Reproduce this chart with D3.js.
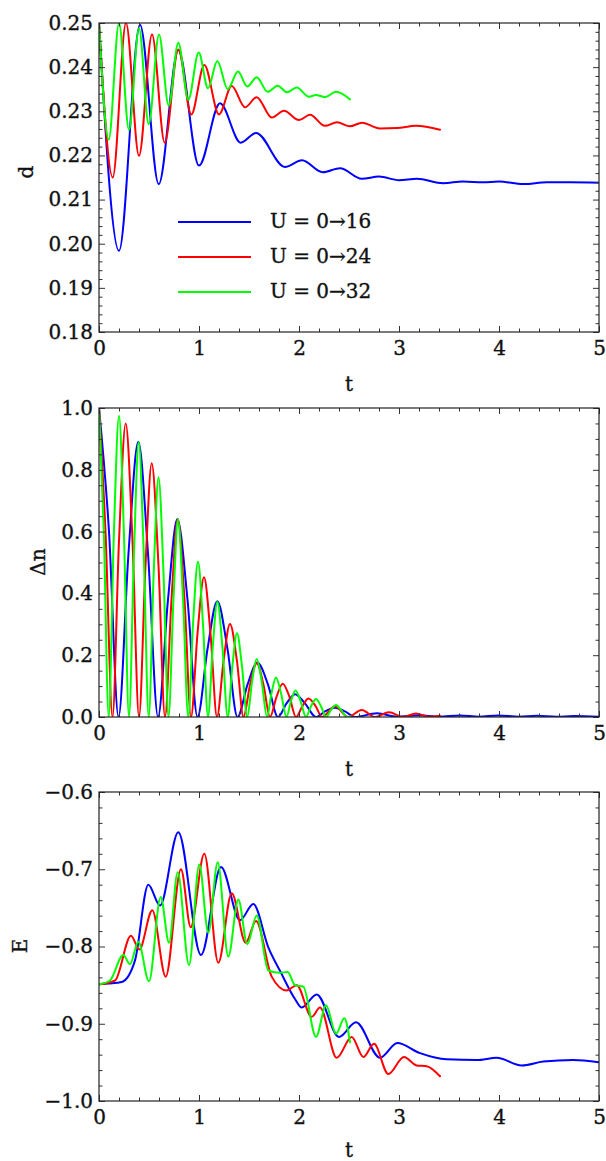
<!DOCTYPE html>
<html><head><meta charset="utf-8">
<script src="https://cdn.jsdelivr.net/npm/d3@7"></script>
<style>
html,body{margin:0;padding:0;background:#fff;}
svg{display:block;}
text{font-family:"DejaVu Serif",serif;}
</style></head><body>
<svg id="chart" width="606" height="1161"></svg>
<script>
// ---------- data ----------
const seriesNames = ["U = 0\u219216", "U = 0\u219224", "U = 0\u219232"];
const seriesColors = ["#0000ff", "#ff0000", "#00ff00"];

const xTicks = [0, 1, 2, 3, 4, 5];
const xTickLabels = ["0", "1", "2", "3", "4", "5"];
const dTicks = [0.18, 0.19, 0.20, 0.21, 0.22, 0.23, 0.24, 0.25];
const dTickLabels = ["0.18", "0.19", "0.20", "0.21", "0.22", "0.23", "0.24", "0.25"];
const nTicks = [0, 0.2, 0.4, 0.6, 0.8, 1.0];
const nTickLabels = ["0.0", "0.2", "0.4", "0.6", "0.8", "1.0"];
const eTicks = [-1.0, -0.9, -0.8, -0.7, -0.6];
const eTickLabels = ["\u22121.0", "\u22120.9", "\u22120.8", "\u22120.7", "\u22120.6"];

// double occupancy d(t)
const d16 = [[0,0.250],[0.2,0.1984],[0.41,0.2496],[0.597,0.2135],[0.793,0.2439],[1.0,0.2177],[1.21,0.2318],[1.417,0.2229],[1.57,0.2251],[1.86,0.2174],[2.03,0.2189],[2.237,0.2162],[2.41,0.2171],[2.627,0.2147],[2.80,0.2152],[3.0,0.2144],[3.18,0.2147],[3.44,0.2137],[3.64,0.2141],[3.84,0.2139],[4.0,0.2141],[4.24,0.2135],[4.48,0.2139],[4.71,0.2139],[5.0,0.2138]];
const d24 = [[0,0.250],[0.137,0.2150],[0.27,0.2500],[0.40,0.2199],[0.53,0.2474],[0.657,0.2229],[0.793,0.2440],[0.923,0.2293],[1.053,0.2405],[1.2,0.2293],[1.327,0.2357],[1.46,0.2309],[1.577,0.2332],[1.727,0.2286],[1.85,0.2301],[2.0,0.2280],[2.11,0.2292],[2.26,0.2267],[2.38,0.2275],[2.51,0.2266],[2.63,0.2274],[2.81,0.2261],[2.98,0.2262],[3.17,0.2267],[3.41,0.2258]];
const d32 = [[0,0.250],[0.097,0.2236],[0.2,0.2500],[0.3,0.2258],[0.4,0.2488],[0.497,0.2271],[0.6,0.2474],[0.697,0.2313],[0.793,0.2455],[0.893,0.2326],[0.997,0.2433],[1.09,0.2352],[1.183,0.2414],[1.287,0.2350],[1.39,0.2390],[1.483,0.2356],[1.577,0.2377],[1.687,0.2344],[1.787,0.2358],[1.88,0.2343],[1.977,0.2354],[2.1,0.2333],[2.17,0.2337],[2.26,0.2332],[2.37,0.2344],[2.51,0.2327]];

// imbalance Δn(t)
const n16 = [[0,1.0],[0.1,0.6],[0.195,0],[0.295,0.53],[0.393,0.891],[0.49,0.53],[0.59,0],[0.69,0.38],[0.783,0.640],[0.885,0.38],[0.985,0],[1.085,0.22],[1.183,0.375],[1.285,0.22],[1.385,0],[1.485,0.105],[1.583,0.176],[1.69,0.105],[1.79,0],[1.875,0.044],[1.96,0.074],[2.06,0.044],[2.17,0],[2.26,0.018],[2.36,0.030],[2.46,0.018],[2.56,0],[2.78,0.012],[2.98,0.001],[3.2,0.006],[3.4,0.001],[3.61,0.005],[3.8,0.001],[3.99,0.005],[4.2,0.001],[4.38,0.004],[4.57,0.001],[4.75,0.003],[5.0,0.001]];
const n24 = [[0,1.0],[0.065,0.6],[0.135,0],[0.2,0.57],[0.267,0.950],[0.335,0.57],[0.40,0],[0.465,0.49],[0.527,0.821],[0.595,0.49],[0.66,0],[0.725,0.38],[0.787,0.640],[0.855,0.38],[0.92,0],[0.985,0.27],[1.05,0.452],[1.115,0.27],[1.18,0],[1.245,0.18],[1.31,0.301],[1.38,0.18],[1.445,0],[1.51,0.104],[1.577,0.174],[1.645,0.104],[1.71,0],[1.775,0.065],[1.837,0.108],[1.905,0.065],[1.97,0],[2.035,0.036],[2.095,0.060],[2.165,0.036],[2.23,0],[2.36,0.035],[2.49,0],[2.627,0.023],[2.76,0],[2.9,0.015],[3.04,0],[3.17,0.011],[3.3,0.001],[3.41,0.004]];
const n32 = [[0,1.0],[0.048,0.6],[0.097,0],[0.148,0.585],[0.2,0.975],[0.25,0.585],[0.3,0],[0.35,0.534],[0.397,0.89],[0.447,0.534],[0.497,0],[0.547,0.466],[0.595,0.776],[0.645,0.466],[0.695,0],[0.745,0.384],[0.79,0.640],[0.84,0.384],[0.893,0],[0.94,0.30],[0.99,0.503],[1.04,0.30],[1.09,0],[1.137,0.224],[1.183,0.373],[1.235,0.224],[1.287,0],[1.333,0.163],[1.38,0.271],[1.43,0.163],[1.483,0],[1.53,0.113],[1.577,0.188],[1.628,0.113],[1.68,0],[1.725,0.077],[1.77,0.128],[1.82,0.077],[1.875,0],[1.92,0.052],[1.965,0.086],[2.015,0.052],[2.07,0],[2.12,0.035],[2.17,0.058],[2.22,0.035],[2.27,0],[2.32,0.023],[2.37,0.039],[2.42,0.023],[2.48,0],[2.51,0.002]];

// energy E(t)
const e16 = [[0,-0.849],[0.1,-0.848],[0.227,-0.846],[0.36,-0.818],[0.493,-0.720],[0.61,-0.747],[0.793,-0.652],[1.02,-0.811],[1.22,-0.697],[1.41,-0.766],[1.543,-0.745],[1.693,-0.801],[1.82,-0.834],[1.96,-0.868],[2.027,-0.879],[2.177,-0.862],[2.40,-0.917],[2.57,-0.898],[2.81,-0.944],[2.983,-0.925],[3.21,-0.938],[3.477,-0.946],[3.777,-0.947],[3.977,-0.944],[4.227,-0.954],[4.443,-0.949],[4.743,-0.947],[5.0,-0.950]];
const e24 = [[0,-0.849],[0.16,-0.844],[0.32,-0.786],[0.403,-0.804],[0.533,-0.753],[0.667,-0.839],[0.82,-0.700],[0.917,-0.775],[1.053,-0.680],[1.193,-0.821],[1.327,-0.731],[1.467,-0.795],[1.57,-0.767],[1.727,-0.839],[1.877,-0.857],[1.977,-0.850],[2.127,-0.891],[2.21,-0.879],[2.377,-0.944],[2.527,-0.917],[2.643,-0.943],[2.75,-0.926],[2.893,-0.965],[3.05,-0.943],[3.177,-0.954],[3.277,-0.955],[3.41,-0.968]];
const e32 = [[0,-0.849],[0.11,-0.844],[0.243,-0.811],[0.31,-0.823],[0.393,-0.794],[0.5,-0.845],[0.617,-0.736],[0.7,-0.795],[0.787,-0.704],[0.9,-0.824],[1.003,-0.694],[1.093,-0.782],[1.187,-0.691],[1.293,-0.813],[1.393,-0.739],[1.483,-0.797],[1.577,-0.760],[1.693,-0.831],[1.81,-0.834],[1.887,-0.833],[1.96,-0.850],[2.043,-0.852],[2.17,-0.917],[2.27,-0.876],[2.37,-0.913],[2.453,-0.893],[2.51,-0.924]];

// ---------- layout ----------
const plotLeft = 99, plotRight = 599;
const FONT = "DejaVu Serif";
const panels = [
  {top: 23, bottom: 332, domain: [0.18, 0.25], ticks: dTicks, labels: dTickLabels, minorStep: 0.002,
   ylabel: "d", ylx: 33, yly: 172, tly: 391, series: [d16, d24, d32], legend: true},
  {top: 408, bottom: 717, domain: [0, 1], ticks: nTicks, labels: nTickLabels, minorStep: 0.05,
   ylabel: "\u0394n", ylx: 45, yly: 562, tly: 776, series: [n16, n24, n32]},
  {top: 792, bottom: 1101, domain: [-1, -0.6], ticks: eTicks, labels: eTickLabels, minorStep: 0.02,
   ylabel: "E", ylx: 27, yly: 946, tly: 1157, series: [e16, e24, e32]}
];

const svg = d3.select("#chart");
svg.append("rect").attr("width", 606).attr("height", 1161).attr("fill", "#fff");
const defs = svg.append("defs");
const x = d3.scaleLinear().domain([0, 5]).range([plotLeft, plotRight]);

function minorValues(lo, hi, step, majors) {
  const a = Math.round(lo / step), b = Math.round(hi / step);
  return d3.range(a, b + 1).map(i => +(i * step).toFixed(6))
    .filter(v => !majors.some(m => Math.abs(m - v) < step / 10));
}
const xMinor = minorValues(0, 5, 0.2, xTicks);

function heavy(sel) {
  sel.attr("fill", "#111").attr("stroke", "#111").attr("stroke-width", 0.35);
}
function styleAxis(sel, labels) {
  sel.select(".domain").remove();
  sel.attr("font-family", FONT).attr("font-size", 20);
  sel.selectAll(".tick line").attr("stroke", "#333").attr("stroke-width", 1);
  sel.selectAll(".tick text").call(heavy);
  if (!labels) sel.selectAll(".tick text").remove();
}

panels.forEach((p, pi) => {
  const y = d3.scaleLinear().domain(p.domain).range([p.bottom, p.top]);
  const g = svg.append("g");

  defs.append("clipPath").attr("id", "clip" + pi).append("rect")
    .attr("x", plotLeft).attr("y", p.top)
    .attr("width", plotRight - plotLeft).attr("height", p.bottom - p.top);

  const line = d3.line().x(d => x(d[0])).y(d => y(d[1])).curve(d3.curveMonotoneX);
  const lg = g.append("g").attr("clip-path", `url(#clip${pi})`);
  p.series.forEach((s, i) => {
    lg.append("path").attr("d", line(s)).attr("fill", "none")
      .attr("stroke", seriesColors[i]).attr("stroke-width", 2)
      .attr("stroke-linejoin", "round").attr("stroke-linecap", "round");
  });

  const yMinor = minorValues(p.domain[0], p.domain[1], p.minorStep, p.ticks);

  // bottom
  g.append("g").attr("transform", `translate(0,${p.bottom})`)
    .call(d3.axisBottom(x).tickValues(xTicks).tickFormat((d, i) => xTickLabels[i]).tickSize(-6).tickSizeOuter(0).tickPadding(9))
    .call(s => styleAxis(s, true));
  g.append("g").attr("transform", `translate(0,${p.bottom})`)
    .call(d3.axisBottom(x).tickValues(xMinor).tickSize(-3.5).tickSizeOuter(0))
    .call(s => styleAxis(s, false));
  // top
  g.append("g").attr("transform", `translate(0,${p.top})`)
    .call(d3.axisTop(x).tickValues(xTicks).tickSize(-6).tickSizeOuter(0))
    .call(s => styleAxis(s, false));
  g.append("g").attr("transform", `translate(0,${p.top})`)
    .call(d3.axisTop(x).tickValues(xMinor).tickSize(-3.5).tickSizeOuter(0))
    .call(s => styleAxis(s, false));
  // left
  g.append("g").attr("transform", `translate(${plotLeft},0)`)
    .call(d3.axisLeft(y).tickValues(p.ticks).tickFormat((d, i) => p.labels[i]).tickSize(-6).tickSizeOuter(0).tickPadding(6))
    .call(s => styleAxis(s, true));
  g.append("g").attr("transform", `translate(${plotLeft},0)`)
    .call(d3.axisLeft(y).tickValues(yMinor).tickSize(-3.5).tickSizeOuter(0))
    .call(s => styleAxis(s, false));
  // right
  g.append("g").attr("transform", `translate(${plotRight},0)`)
    .call(d3.axisRight(y).tickValues(p.ticks).tickSize(-6).tickSizeOuter(0))
    .call(s => styleAxis(s, false));
  g.append("g").attr("transform", `translate(${plotRight},0)`)
    .call(d3.axisRight(y).tickValues(yMinor).tickSize(-3.5).tickSizeOuter(0))
    .call(s => styleAxis(s, false));

  // frame
  g.append("rect").attr("x", plotLeft).attr("y", p.top)
    .attr("width", plotRight - plotLeft).attr("height", p.bottom - p.top)
    .attr("fill", "none").attr("stroke", "#222").attr("stroke-width", 1.2);

  // axis labels
  g.append("text").attr("x", x(2.5)).attr("y", p.tly)
    .attr("text-anchor", "middle").attr("font-size", 20).call(heavy).text("t");
  g.append("text").attr("transform", `translate(${p.ylx},${p.yly}) rotate(-90)`)
    .attr("text-anchor", "middle").attr("font-size", 20).call(heavy).text(p.ylabel);

  if (p.legend) {
    const ly = [222, 257, 292];
    seriesNames.forEach((name, i) => {
      g.append("line").attr("x1", 178).attr("x2", 251).attr("y1", ly[i]).attr("y2", ly[i])
        .attr("stroke", seriesColors[i]).attr("stroke-width", 2);
      g.append("text").attr("x", 270).attr("y", ly[i]).attr("dy", "0.32em")
        .attr("font-size", 20).call(heavy).text(name);
    });
  }
});
</script>
</body></html>
